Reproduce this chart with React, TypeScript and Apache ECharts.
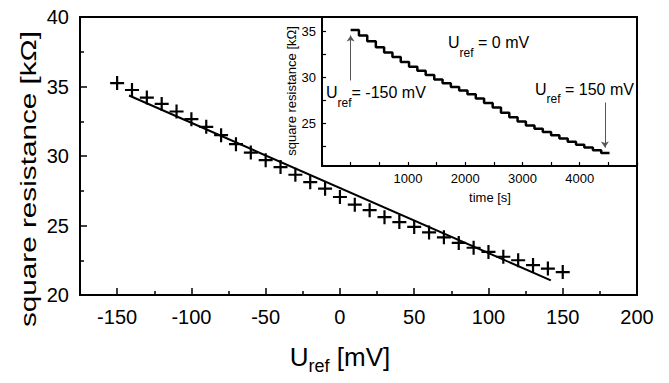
import { useEffect, useRef } from "react";
import * as echarts from "echarts";

// Main plot: square resistance vs reference voltage
const urefMV = [-150, -140, -130, -120, -110, -100, -90, -80, -70, -60, -50, -40, -30, -20, -10, 0, 10, 20, 30, 40, 50, 60, 70, 80, 90, 100, 110, 120, 130, 140, 150];
const squareResistance = [35.25, 34.75, 34.2, 33.75, 33.2, 32.65, 32.1, 31.5, 30.85, 30.25, 29.7, 29.2, 28.65, 28.12, 27.65, 27.05, 26.5, 26.1, 25.6, 25.25, 24.9, 24.5, 24.15, 23.75, 23.4, 23.1, 22.75, 22.5, 22.15, 21.9, 21.65];
const fitUref = [-142, 142];
const fitResistance = [34.35, 21.05];

const mainXLabels = [-150, -100, -50, 0, 50, 100, 150, 200];
const mainXMinorTicks = [-175, -125, -75, -25, 25, 75, 125, 175];

// Inset: square resistance vs time (staircase)
const insetTime = [0, 145, 290, 440, 585, 730, 875, 1020, 1165, 1310, 1460, 1605, 1750, 1895, 2040, 2185, 2330, 2480, 2625, 2770, 2915, 3060, 3210, 3355, 3500, 3645, 3790, 3935, 4080, 4230, 4375, 4520];
const insetResistance = [35.2, 34.6, 33.95, 33.3, 32.75, 32.25, 31.7, 31.2, 30.75, 30.3, 29.8, 29.4, 29.0, 28.6, 28.2, 27.75, 27.25, 26.75, 26.2, 25.7, 25.25, 24.8, 24.45, 24.1, 23.75, 23.4, 23.05, 22.7, 22.4, 22.1, 21.8];
const insetXLabels = [1000, 2000, 3000, 4000];
const insetYLabels = [25, 30, 35];
const insetYTicks = [22.5, 25, 27.5, 30, 32.5, 35];

const FF = "'Liberation Sans', Arial, Helvetica, sans-serif";

export default function App() {
  const ref = useRef<HTMLDivElement>(null);
  useEffect(() => {
    if (!ref.current) return;
    const chart = echarts.init(ref.current, undefined, { renderer: "svg" });
    const black = "#000";
    const subText = (u: number, s: number, pad: number) => ({
      u: { fontSize: u, fontFamily: FF, fill: black },
      s: { fontSize: s, fontFamily: FF, fill: black, padding: [pad, 0, 0, 0] },
    });
    const plain = (v: number) => String(v);
    chart.setOption({
      animation: false,
      backgroundColor: "#fff",
      textStyle: { fontFamily: FF, color: black },
      grid: [
        { left: 80, top: 17, width: 557, height: 278, show: true, borderColor: black, borderWidth: 2, backgroundColor: "transparent" },
        { left: 322, top: 17, width: 315, height: 149, show: true, borderColor: black, borderWidth: 2, backgroundColor: "#fff" },
      ],
      xAxis: [
        {
          type: "value", gridIndex: 0, min: -175, max: 200, position: "bottom",
          axisLine: { onZero: false, lineStyle: { color: black, width: 2 } },
          axisTick: { inside: true, length: 7, customValues: mainXLabels, lineStyle: { color: black, width: 1.5 } },
          axisLabel: { customValues: mainXLabels, formatter: plain, fontSize: 20, margin: 12, color: black, fontFamily: FF },
          splitLine: { show: false },
        },
        {
          type: "value", gridIndex: 0, min: -175, max: 200, position: "bottom",
          axisLine: { show: false, onZero: false },
          axisTick: { inside: true, length: 4, customValues: mainXMinorTicks, lineStyle: { color: black, width: 1.5 } },
          axisLabel: { show: false },
          splitLine: { show: false },
        },
        {
          type: "value", gridIndex: 1, min: -500, max: 5000, interval: 500, position: "bottom",
          axisLine: { onZero: false, lineStyle: { color: black, width: 2 } },
          axisTick: { inside: true, length: 4, lineStyle: { color: black, width: 1.2 } },
          axisLabel: { customValues: insetXLabels, formatter: plain, fontSize: 13, margin: 6, color: black, fontFamily: FF },
          splitLine: { show: false },
        },
      ],
      yAxis: [
        {
          type: "value", gridIndex: 0, min: 20, max: 40, interval: 5,
          axisLine: { onZero: false, lineStyle: { color: black, width: 2 } },
          axisTick: { inside: true, length: 7, lineStyle: { color: black, width: 1.5 } },
          minorTick: { show: true, splitNumber: 2, length: 4, lineStyle: { color: black, width: 1.5 } },
          axisLabel: { fontSize: 20, margin: 11, color: black, fontFamily: FF },
          splitLine: { show: false },
        },
        {
          type: "value", gridIndex: 1, min: 20.4, max: 36.6,
          axisLine: { onZero: false, lineStyle: { color: black, width: 2 } },
          axisTick: { inside: true, length: 4, customValues: insetYTicks, lineStyle: { color: black, width: 1.2 } },
          axisLabel: { customValues: insetYLabels, formatter: plain, fontSize: 13, margin: 6, color: black, fontFamily: FF },
          splitLine: { show: false },
        },
      ],
      series: [
        {
          type: "scatter", xAxisIndex: 0, yAxisIndex: 0,
          data: urefMV.map((x, i) => [x, squareResistance[i]]),
          symbol: "path://M0,6H12M6,0V12",
          symbolSize: 14,
          itemStyle: { color: "rgba(0,0,0,0)", borderColor: black, borderWidth: 2.2, opacity: 1 },
        },
        {
          type: "line", xAxisIndex: 0, yAxisIndex: 0,
          data: fitUref.map((x, i) => [x, fitResistance[i]]),
          symbol: "none",
          lineStyle: { color: black, width: 2 },
        },
        {
          type: "line", xAxisIndex: 2, yAxisIndex: 1, step: "end",
          data: insetTime.map((t, i) => [t, insetResistance[Math.min(i, insetResistance.length - 1)]]),
          symbol: "none",
          lineStyle: { color: black, width: 2.5 },
          markLine: {
            silent: true,
            symbol: ["none", "arrow"],
            symbolSize: 6,
            label: { show: false },
            lineStyle: { color: "#555", width: 1, type: "solid" },
            data: [
              [{ coord: [0, 29.7] }, { coord: [0, 34.6] }],
              [{ coord: [4440, 27.3] }, { coord: [4440, 22.4] }],
            ],
          },
        },
      ],
      graphic: [
        {
          type: "text", x: 28, y: 179, rotation: Math.PI / 2, scaleX: 1.35,
          style: { text: "square resistance [kΩ]", fontSize: 22, fontFamily: FF, fill: black, textAlign: "center", textVerticalAlign: "middle" },
        },
        {
          type: "text", x: 340, y: 356.5,
          style: { text: "{u|U}{s|ref}{u| [mV]}", rich: subText(26, 18, 19), textAlign: "center", textVerticalAlign: "middle" },
        },
        {
          type: "text", x: 291, y: 91, rotation: Math.PI / 2,
          style: { text: "square resistance [kΩ]", fontSize: 13, fontFamily: FF, fill: black, textAlign: "center", textVerticalAlign: "middle" },
        },
        {
          type: "text", x: 490, y: 197,
          style: { text: "time [s]", fontSize: 13, fontFamily: FF, fill: black, textAlign: "center", textVerticalAlign: "middle" },
        },
        {
          type: "text", x: 448, y: 42.5,
          style: { text: "{u|U}{s|ref}{u| = 0 mV}", rich: subText(16, 12, 20), textAlign: "left", textVerticalAlign: "middle" },
        },
        {
          type: "text", x: 326, y: 92.5,
          style: { text: "{u|U}{s|ref}{u|= -150 mV}", rich: subText(16, 12, 20), textAlign: "left", textVerticalAlign: "middle" },
        },
        {
          type: "text", x: 535, y: 89,
          style: { text: "{u|U}{s|ref}{u| = 150 mV}", rich: subText(16, 12, 20), textAlign: "left", textVerticalAlign: "middle" },
        },
      ],
    });
    return () => chart.dispose();
  }, []);
  return <div ref={ref} style={{ position: "fixed", left: 0, top: 0, width: 669, height: 383 }} />;
}
